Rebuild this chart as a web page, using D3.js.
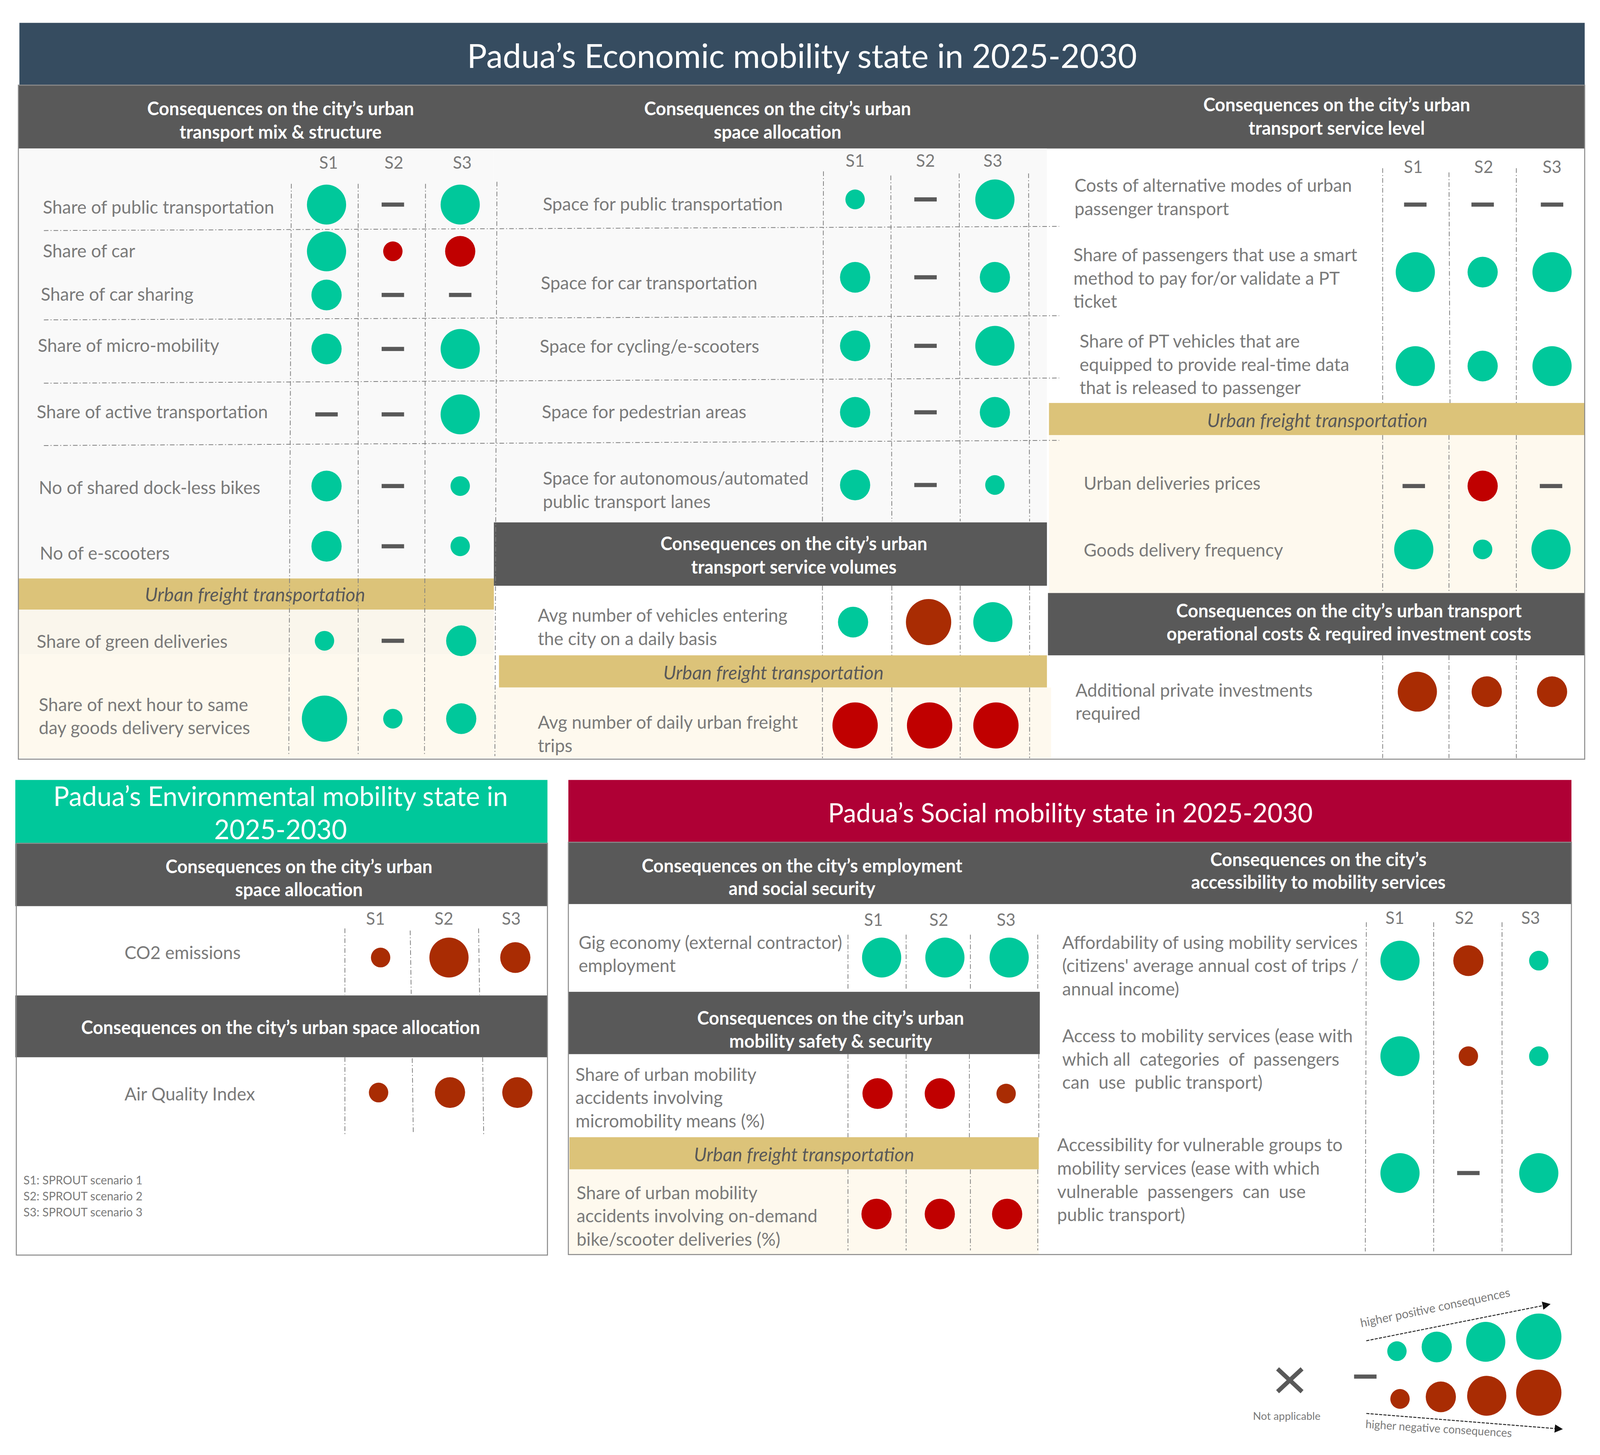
<!DOCTYPE html>
<html>
<head>
<meta charset="utf-8">
<script src="https://cdnjs.cloudflare.com/ajax/libs/d3/7.8.5/d3.min.js"></script>
<style>
  html, body { margin: 0; padding: 0; background: #fff; overflow: hidden; }
  text { font-family: Lato, "Open Sans", sans-serif; }
</style>
</head>
<body>
<div class="chart"></div>
<script>
// scenarios and scale: 0 = no consequence (dash), + positive, - negative
var scenarios = ['S1', 'S2', 'S3'];
var levels = [1, 2, 3, 4];

var mixLabels = ['Share of public transportation', 'Share of car', 'Share of car sharing', 'Share of micro-mobility',
  'Share of active transportation', 'No of shared dock-less bikes', 'No of e-scooters'];
var mixValues = [[3, 0, 3], [3, -1, -2], [2, 0, 0], [2, 0, 3], [0, 0, 3], [2, 0, 1], [2, 0, 1]];
var mixFreightLabels = ['Share of green deliveries', 'Share of next hour to same|day goods delivery services'];
var mixFreightValues = [[1, 0, 2], [4, 1, 2]];

var spaceLabels = ['Space for public transportation', 'Space for car transportation', 'Space for cycling/e-scooters',
  'Space for pedestrian areas', 'Space for autonomous/automated|public transport lanes'];
var spaceValues = [[1, 0, 3], [2, 0, 2], [2, 0, 3], [2, 0, 2], [2, 0, 1]];
var volumeLabels = ['Avg number of vehicles entering|the city on a daily basis'];
var volumeValues = [[2, -4, 3]];
var volumeFreightLabels = ['Avg number of daily urban freight|trips'];
var volumeFreightValues = [[-4, -4, -4]];

var serviceLabels = ['Costs of alternative modes of urban|passenger transport',
  'Share of passengers that use a smart|method to pay for/or validate a PT|ticket',
  'Share of PT vehicles that are|equipped to provide real-time data|that is released to passenger'];
var serviceValues = [[0, 0, 0], [3, 2, 3], [3, 2, 3]];
var serviceFreightLabels = ['Urban deliveries prices', 'Goods delivery frequency'];
var serviceFreightValues = [[0, -2, 0], [3, 1, 3]];
var costLabels = ['Additional private investments|required'];
var costValues = [[-3, -2, -2]];

var co2Labels = ['CO2 emissions'];
var co2Values = [[-1, -3, -2]];
var airLabels = ['Air Quality Index'];
var airValues = [[-1, -2, -2]];

var gigLabels = ['Gig economy (external contractor)|employment'];
var gigValues = [[3, 3, 3]];
var safetyLabels = ['Share of urban mobility|accidents involving|micromobility means (%)'];
var safetyValues = [[-2, -2, -1]];
var safetyFreightLabels = ['Share of urban mobility|accidents involving on-demand|bike/scooter deliveries (%)'];
var safetyFreightValues = [[-2, -2, -2]];
var accessLabels = ["Affordability of using mobility services|(citizens' average annual cost of trips /|annual income)",
  'Access to mobility services (ease with|which all  categories  of  passengers|can  use  public transport)',
  'Accessibility for vulnerable groups to|mobility services (ease with which|vulnerable  passengers  can  use|public transport)'];
var accessValues = [[3, -2, 1], [3, -1, 1], [3, 0, 3]];

// rows whose negative marks are the brighter red, and the one cell that is not
var redRows = ['Share of car', 'Avg number of daily urban freight|trips', 'Urban deliveries prices',
  safetyLabels[0], safetyFreightLabels[0]];
var rustCells = [safetyLabels[0] + '#S3'];

var noteLines = ['S1: SPROUT scenario 1', 'S2: SPROUT scenario 2', 'S3: SPROUT scenario 3'];
var freightTitle = 'Urban freight transportation';

var GREEN = '#00C89B', RUST = '#A92C03', RED = '#C00000', DARK = '#595959',
  GOLD = '#DCC379', CREAM = '#FEF9EE', PALE = '#F9F9F9', LABEL = '#7A7A7A';

// sizes follow the legend's four steps
var radius = d3.scaleLinear().domain(levels).range([9.5, 14.8, 19.2, 22.2]);

function draw() {
  // fill the window, whatever it really measures
  var svg = d3.select('.chart').append('svg')
    .attr('width', window.innerWidth)
    .attr('height', window.innerHeight)
    .attr('viewBox', '0 0 1568 1401')
    .attr('preserveAspectRatio', 'none')
    .style('display', 'block');

  function box(x0, y0, x1, y1, fill) {
    svg.append('rect').attr('x', x0).attr('y', y0).attr('width', x1 - x0).attr('height', y1 - y0).attr('fill', fill);
  }

  function lines(txt, x, ys, opts) {
    var t = svg.selectAll(null).data(txt.split('|')).enter().append('text')
      .attr('x', x)
      .attr('y', function (d, i) { return ys[i]; })
      .attr('dominant-baseline', 'central')
      .attr('text-anchor', opts.anchor || 'start')
      .attr('font-size', opts.size)
      .attr('fill', opts.fill || LABEL)
      .attr('font-weight', opts.weight || 'normal')
      .attr('font-style', opts.style || 'normal')
      .style('white-space', 'pre')
      .text(function (d) { return d; });
    return t;
  }

  function header(txt, x, ys, size) {
    lines(txt, x, ys, { anchor: 'middle', size: size || 17.6, fill: '#fff', weight: 'bold' });
  }

  function freight(x, y) {
    lines(freightTitle, x, [y], { anchor: 'middle', size: 18.4, fill: DARK, style: 'italic' });
  }

  function dashed(x1, y1, x2, y2) {
    svg.append('line').attr('x1', x1).attr('y1', y1).attr('x2', x2).attr('y2', y2)
      .attr('stroke', '#7f7f7f').attr('stroke-width', 0.75).attr('stroke-dasharray', '4.5,2,1,2');
  }

  function scenarioHeads(xs, y) {
    var xScale = d3.scaleOrdinal(scenarios, xs);
    svg.selectAll(null).data(scenarios).enter().append('text')
      .attr('x', function (d) { return xScale(d); })
      .attr('y', y)
      .attr('text-anchor', 'middle')
      .attr('dominant-baseline', 'central')
      .attr('font-size', 16.5)
      .attr('fill', LABEL)
      .text(function (d) { return d; });
  }

  // one block of rows: labels on the left and a mark per scenario
  function block(labels, values, colX, rowY, labelX, labelY, lineGap) {
    var x = d3.scaleOrdinal(scenarios, colX);
    var y = d3.scaleOrdinal(labels, rowY);
    labels.forEach(function (label, i) {
      var parts = label.split('|');
      var ys = parts.map(function (p, j) { return labelY[i] + j * (lineGap || 22.4); });
      lines(label, labelX[i], ys, { size: 17.4 });

      var cells = scenarios.map(function (s, j) { return { s: s, v: values[i][j], label: label }; });
      var g = svg.append('g');
      g.selectAll('circle').data(cells.filter(function (c) { return c.v !== 0; })).enter().append('circle')
        .attr('cx', function (c) { return x(c.s); })
        .attr('cy', y(label))
        .attr('r', function (c) { return radius(Math.abs(c.v)); })
        .attr('fill', function (c) {
          if (c.v > 0) return GREEN;
          if (redRows.indexOf(c.label) >= 0 && rustCells.indexOf(c.label + '#' + c.s) < 0) return RED;
          return RUST;
        });
      g.selectAll('rect').data(cells.filter(function (c) { return c.v === 0; })).enter().append('rect')
        .attr('x', function (c) { return x(c.s) - 11; })
        .attr('y', y(label) - 2)
        .attr('width', 22)
        .attr('height', 4)
        .attr('fill', DARK);
    });
  }

  // ---------- Economic panel ----------
  box(19, 22, 1553, 82, '#364C60');
  box(18, 82, 1553, 143, DARK);
  box(18, 143, 484, 557, PALE);
  box(484, 143, 1026, 503, PALE);
  box(18, 557, 484, 587, GOLD);
  box(18, 587, 484, 630, '#FAF6EC');
  box(18, 630, 484, 730, CREAM);
  box(484, 503, 1026, 564, DARK);
  box(489, 631, 1026, 662, GOLD);
  box(484, 662, 1030, 730, CREAM);
  box(1028, 388, 1553, 419, GOLD);
  box(1028, 419, 1553, 571, CREAM);
  box(1027, 571, 1553, 631, DARK);

  lines("Padua\u2019s Economic mobility state in 2025-2030", 786, [53], { anchor: 'middle', size: 32.3, fill: '#fff' });
  header("Consequences on the city\u2019s urban|transport mix & structure", 275, [104, 126.5]);
  header("Consequences on the city\u2019s urban|space allocation", 762, [104, 126.5]);
  header("Consequences on the city\u2019s urban|transport service level", 1310, [100.5, 123]);
  header("Consequences on the city\u2019s urban|transport service volumes", 778, [523, 545.5]);
  header("Consequences on the city\u2019s urban transport|operational costs & required investment costs", 1322, [587.5, 610]);
  freight(250, 572);
  freight(758, 647);
  freight(1291, 404);

  scenarioHeads([322, 386, 453], 156);
  scenarioHeads([838, 907, 973], 154);
  scenarioHeads([1385, 1454, 1521], 160);

  // row separators run over the first two columns
  dashed(43, 222, 1038, 218);
  dashed(43, 308, 1038, 304);
  dashed(43, 369, 1038, 364);
  dashed(43, 429, 1038, 424);

  dashed(285.5, 177, 283, 728);
  dashed(351, 177, 351, 728);
  dashed(417, 177, 416, 728);
  dashed(487, 175, 485, 728);
  dashed(807, 165, 806, 502);
  dashed(873, 169, 874, 502);
  dashed(940, 167, 941, 502);
  dashed(1008, 167, 1009, 502);
  dashed(806, 564, 806, 631);
  dashed(874, 564, 874, 631);
  dashed(941, 564, 941, 631);
  dashed(1009, 564, 1009, 631);
  dashed(806, 662, 806, 730);
  dashed(874, 662, 874, 730);
  dashed(941, 662, 941, 730);
  dashed(1009, 662, 1009, 730);
  dashed(1355, 162, 1355, 388);
  dashed(1420, 166, 1421, 388);
  dashed(1486, 162, 1486, 388);
  dashed(1355, 419, 1355, 571);
  dashed(1420, 419, 1420, 571);
  dashed(1486, 419, 1486, 571);
  dashed(1355, 631, 1355, 730);
  dashed(1420, 631, 1420, 730);
  dashed(1486, 631, 1486, 730);

  block(mixLabels, mixValues, [320, 385, 451], [197, 242, 284, 336, 399, 468, 526],
    [42, 42, 40, 37, 36, 38, 39], [199, 241, 283, 332, 396, 469, 532]);
  block(mixFreightLabels, mixFreightValues, [318, 385, 452], [617, 692], [36, 38], [617, 678]);
  block(spaceLabels, spaceValues, [838, 907, 975], [192, 267, 333, 397, 467],
    [532, 530, 529, 531, 532], [196, 272, 333, 396, 460]);
  block(volumeLabels, volumeValues, [836, 910, 973], [599], [527], [592]);
  block(volumeFreightLabels, volumeFreightValues, [838, 911, 976], [698.5], [527], [695]);
  block(serviceLabels, serviceValues, [1387, 1453, 1521], [197, 262, 352.5],
    [1053, 1052, 1058], [178, 245, 328]);
  block(serviceFreightLabels, serviceFreightValues, [1385.5, 1453, 1520], [468, 529], [1062, 1062], [465, 529]);
  block(costLabels, costValues, [1389, 1457, 1521], [666], [1054], [664]);

  svg.append('rect').attr('x', 18).attr('y', 82).attr('width', 1535).attr('height', 649)
    .attr('fill', 'none').attr('stroke', '#8c8c8c').attr('stroke-width', 1);

  // ---------- Environmental panel ----------
  box(15, 751, 536.5, 812.5, GREEN);
  box(15, 812.5, 536.5, 872.5, DARK);
  box(15, 958.5, 536.5, 1018, DARK);
  lines("Padua\u2019s Environmental mobility state in|2025-2030", 275, [766, 798], { anchor: 'middle', size: 26, fill: '#fff' });
  header("Consequences on the city\u2019s urban|space allocation", 293, [834, 856]);
  header("Consequences on the city\u2019s urban space allocation", 275, [989]);
  scenarioHeads([368, 435, 501], 884);
  dashed(338, 894, 338, 958);
  dashed(402, 896, 403, 957);
  dashed(469, 894, 470, 958);
  dashed(338, 1018, 338, 1092);
  dashed(404, 1019, 405, 1090);
  dashed(473, 1018, 474, 1092);
  block(co2Labels, co2Values, [373, 440, 505], [922], [122], [917]);
  block(airLabels, airValues, [371, 441, 507], [1052], [122], [1053]);
  noteLines.forEach(function (n, i) {
    lines(n, 23, [1136 + i * 15.4], { size: 11.4 });
  });
  svg.append('rect').attr('x', 16).attr('y', 812).attr('width', 520.5).attr('height', 396.5)
    .attr('fill', 'none').attr('stroke', '#8c8c8c').attr('stroke-width', 1);

  // ---------- Social panel ----------
  box(557, 751, 1540, 811, '#AF0035');
  box(557, 811, 1540, 870.5, DARK);
  box(557, 955, 1019, 1015, DARK);
  box(558, 1095, 1018, 1126, GOLD);
  box(558, 1126, 1018, 1208, CREAM);
  lines("Padua\u2019s Social mobility state in 2025-2030", 1049, [782], { anchor: 'middle', size: 25.5, fill: '#fff' });
  header("Consequences on the city\u2019s employment|and social security", 786, [833, 855]);
  header("Consequences on the city\u2019s|accessibility to mobility services", 1292, [827, 849]);
  header("Consequences on the city\u2019s urban|mobility safety & security", 814, [980, 1002]);
  freight(788, 1111);
  scenarioHeads([856, 920, 986], 885);
  scenarioHeads([1367, 1435, 1500], 883);
  dashed(831, 900, 831, 954);
  dashed(888, 900, 888, 954);
  dashed(951, 900, 951, 954);
  dashed(1017, 900, 1017, 954);
  dashed(831, 1015, 831, 1095);
  dashed(888, 1015, 888, 1095);
  dashed(950, 1015, 950, 1095);
  dashed(1018, 1015, 1018, 1095);
  dashed(831, 1126, 831, 1204);
  dashed(888, 1126, 888, 1204);
  dashed(951, 1126, 951, 1204);
  dashed(1017, 1126, 1017, 1204);
  dashed(1339, 888, 1338, 1205);
  dashed(1405, 888, 1405, 1205);
  dashed(1472, 888, 1472, 1205);
  block(gigLabels, gigValues, [864, 926, 989], [922], [567], [907]);
  block(safetyLabels, safetyValues, [860, 921, 986], [1053], [564], [1034]);
  block(safetyFreightLabels, safetyFreightValues, [859, 921, 987], [1169], [565], [1148]);
  block(accessLabels, accessValues, [1372, 1439, 1508], [925, 1017, 1129.5],
    [1041, 1041, 1036], [907, 997, 1102]);
  svg.append('rect').attr('x', 557).attr('y', 811).attr('width', 983).attr('height', 397)
    .attr('fill', 'none').attr('stroke', '#8c8c8c').attr('stroke-width', 1);

  // ---------- Legend ----------
  var legX = d3.scaleOrdinal(levels, [1369, 1408, 1456, 1508]);
  var legY = d3.scaleOrdinal(levels, [1301, 1297, 1292, 1287]);
  var legXn = d3.scaleOrdinal(levels, [1372, 1412, 1457, 1508]);
  var legYn = d3.scaleOrdinal(levels, [1347, 1345, 1344, 1341]);
  svg.append('g').selectAll('circle').data(levels).enter().append('circle')
    .attr('cx', function (d) { return legX(d); })
    .attr('cy', function (d) { return legY(d); })
    .attr('r', function (d) { return radius(d); })
    .attr('fill', GREEN);
  svg.append('g').selectAll('circle').data(levels).enter().append('circle')
    .attr('cx', function (d) { return legXn(d); })
    .attr('cy', function (d) { return legYn(d); })
    .attr('r', function (d) { return radius(d); })
    .attr('fill', RUST);
  box(1327, 1323.5, 1349, 1327.5, DARK);

  var marker = svg.append('defs').append('marker')
    .attr('id', 'head').attr('viewBox', '0 0 10 10').attr('refX', 8).attr('refY', 5)
    .attr('markerWidth', 8).attr('markerHeight', 8).attr('markerUnits', 'userSpaceOnUse').attr('orient', 'auto');
  marker.append('path').attr('d', 'M0,0L10,5L0,10Z').attr('fill', '#111');

  svg.append('line').attr('x1', 1339).attr('y1', 1291).attr('x2', 1518).attr('y2', 1256)
    .attr('stroke', '#222').attr('stroke-width', 0.9).attr('stroke-dasharray', '3,1.2').attr('marker-end', 'url(#head)');
  svg.append('line').attr('x1', 1339).attr('y1', 1361).attr('x2', 1530).attr('y2', 1376)
    .attr('stroke', '#222').attr('stroke-width', 0.9).attr('stroke-dasharray', '3,1.2').attr('marker-end', 'url(#head)');

  svg.append('text').attr('transform', 'translate(1334,1278) rotate(-11.5)')
    .attr('font-size', 11.6).attr('fill', LABEL).text('higher positive consequences');
  svg.append('text').attr('transform', 'translate(1338,1375) rotate(3.5)')
    .attr('font-size', 10.9).attr('fill', LABEL).text('higher negative consequences');

  svg.append('line').attr('x1', 1252).attr('y1', 1318).attr('x2', 1276).attr('y2', 1340)
    .attr('stroke', DARK).attr('stroke-width', 4.2);
  svg.append('line').attr('x1', 1276).attr('y1', 1318).attr('x2', 1252).attr('y2', 1340)
    .attr('stroke', DARK).attr('stroke-width', 4.2);
  lines('Not applicable', 1261, [1363], { anchor: 'middle', size: 10.5 });
}

document.onreadystatechange = function () {
  if (document.readyState == 'complete') {
    draw();
  }
};
</script>
</body>
</html>
